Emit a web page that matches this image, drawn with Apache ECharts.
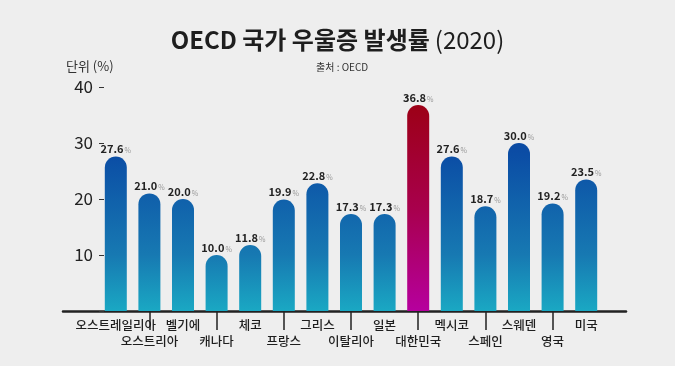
<!DOCTYPE html>
<html>
<head>
<meta charset="utf-8">
<script src="https://cdn.jsdelivr.net/npm/echarts@6/dist/echarts.min.js"></script>
<style>
html,body{margin:0;padding:0;background:#eeeeee;}
#chart{width:675px;height:366px;}
</style>
</head>
<body>
<div id="chart"></div>
<script>
const categories = ['오스트레일리아','오스트리아','벨기에','캐나다','체코','프랑스','그리스','이탈리아','일본','대한민국','멕시코','스페인','스웨덴','영국','미국'];
const values = [27.6, 21.0, 20.0, 10.0, 11.8, 19.9, 22.8, 17.3, 17.3, 36.8, 27.6, 18.7, 30.0, 19.2, 23.5];
const highlight = '대한민국';
const yMin = 0, yMax = 40, yStep = 10;

const FONT = '"Noto Sans CJK KR", "Noto Sans", sans-serif';
const chart = echarts.init(document.getElementById('chart'));

const koreaColor = new echarts.graphic.LinearGradient(0, 0, 0, 1, [
  {offset: 0, color: '#9c0016'},
  {offset: 0.5, color: '#a8004c'},
  {offset: 1, color: '#b6009e'}
]);

const barData = values.map((v, i) => categories[i] === highlight
  ? {value: v, itemStyle: {color: koreaColor}}
  : {value: v});

chart.setOption({
  backgroundColor: '#eeeeee',
  animation: false,
  title: [
    {
      text: '{b|OECD 국가 우울증 발생률} {n|(2020)}',
      left: 'center', top: 28, padding: 0,
      textStyle: {
        rich: {
          b: {fontFamily: FONT, fontSize: 24, fontWeight: 'bold', color: '#1e1e1e'},
          n: {fontFamily: FONT, fontSize: 24, fontWeight: 'normal', color: '#1e1e1e'}
        }
      }
    },
    {
      text: '출처 : OECD', left: 316, top: 62, padding: 0,
      textStyle: {fontFamily: FONT, fontSize: 10, fontWeight: 'normal', color: '#333'}
    },
    {
      text: '단위 (%)', left: 66, top: 60, padding: 0,
      textStyle: {fontFamily: FONT, fontSize: 13, fontWeight: 'normal', color: '#333'}
    }
  ],
  grid: [
    {left: 99, right: 72, top: 87, bottom: 55},
    {left: 63, right: 49, top: 87, bottom: 55}
  ],
  xAxis: [
    {
      type: 'category', gridIndex: 0, data: categories,
      axisLine: {show: false},
      axisTick: {
        show: true, alignWithLabel: true, length: 19,
        interval: (i) => i % 2 === 1,
        lineStyle: {color: '#222', width: 1.5}
      },
      axisLabel: {
        interval: 0, margin: 6,
        fontFamily: FONT, fontSize: 12.5, fontWeight: 500, color: '#1e1e1e', lineHeight: 16,
        formatter: (v, i) => (i % 2 === 1 ? '\n' + v : v)
      }
    },
    {
      type: 'value', gridIndex: 1, min: 0, max: 1,
      axisLine: {show: true, onZero: false, lineStyle: {color: '#222', width: 2.5}},
      axisTick: {show: false}, axisLabel: {show: false}, splitLine: {show: false}
    }
  ],
  yAxis: [
    {
      type: 'value', gridIndex: 0, min: yMin, max: yMax, interval: yStep,
      axisLine: {show: false},
      axisTick: {show: true, inside: true, length: 5, lineStyle: {color: '#333', width: 1}},
      splitLine: {show: false},
      axisLabel: {
        margin: 6, fontFamily: FONT, fontSize: 17, color: '#222',
        formatter: (v) => (v === 0 ? '' : String(v))
      }
    },
    {type: 'value', gridIndex: 1, min: 0, max: 1, show: false}
  ],
  series: [
    {
      type: 'bar', xAxisIndex: 0, yAxisIndex: 0,
      data: barData, barWidth: 22,
      itemStyle: {color: '#1779b2', borderRadius: [11, 11, 0, 0]},
      label: {
        show: true, position: 'top', distance: 2,
        formatter: (p) => '{v|' + p.value.toFixed(1) + '}{p|%}',
        rich: {
          v: {fontFamily: FONT, fontSize: 11, fontWeight: 'bold', color: '#222'},
          p: {fontFamily: FONT, fontSize: 7, color: '#999', padding: [3, 0, 0, 1]}
        }
      }
    }
  ]
});

// global gradient tied to the y axis scale
const yTop = chart.convertToPixel({yAxisIndex: 0}, yMax);
const yBot = chart.convertToPixel({yAxisIndex: 0}, yMin);
const blueGrad = new echarts.graphic.LinearGradient(0, yTop, 0, yBot, [
  {offset: 0, color: '#0a3c96'},
  {offset: 0.3, color: '#0b4da5'},
  {offset: 0.75, color: '#1779b2'},
  {offset: 1, color: '#1aa8c3'}
], true);
chart.setOption({series: [{itemStyle: {color: blueGrad, borderRadius: [11, 11, 0, 0]}}]});
</script>
</body>
</html>
